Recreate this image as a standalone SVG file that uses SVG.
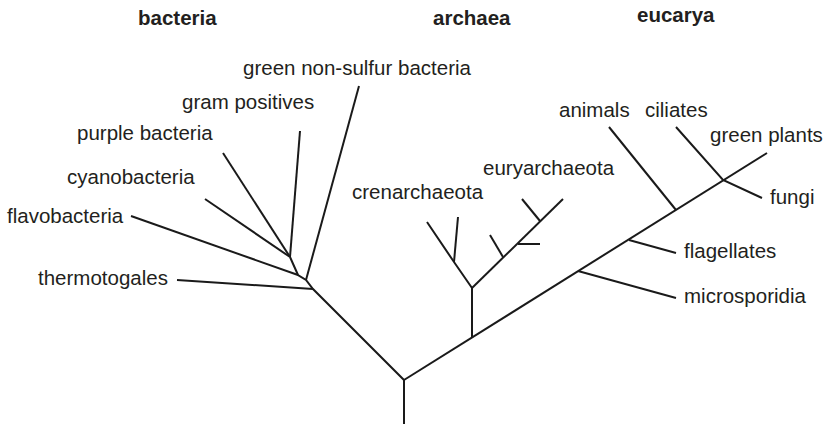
<svg xmlns="http://www.w3.org/2000/svg" width="826" height="426" viewBox="0 0 826 426">
<style>
.e{stroke:#1a1a1a;stroke-width:2;fill:none;stroke-linecap:butt;stroke-linejoin:miter}
text{font-family:"Liberation Sans",Arial,sans-serif;font-size:20.5px;fill:#231f20}
.h{font-weight:bold}
</style>
<rect width="826" height="426" fill="#fff"/>
<g id="headers">
<text class="h" x="138" y="25">bacteria</text>
<text class="h" x="433" y="25">archaea</text>
<text class="h" x="637" y="22">eucarya</text>
</g>
<g id="connectors">
<path class="e" d="M404,424 V380"/>
<path class="e" d="M404,380 L313,289 L306,280 L298,275 L290,257"/>
<path class="e" d="M177,280 L313,289"/>
<path class="e" d="M306,280 L359,86"/>
<path class="e" d="M131,216 L298,275"/>
<path class="e" d="M290,257 L300,131"/>
<path class="e" d="M223,153 L290,257"/>
<path class="e" d="M205,199 L290,257"/>
<path class="e" d="M404,380 L767,153"/>
<path class="e" d="M472,337 V288"/>
<path class="e" d="M472,288 L454,262 L427,222"/>
<path class="e" d="M454,262 L458,217"/>
<path class="e" d="M472,288 L563,199"/>
<path class="e" d="M503,257 L490,235"/>
<path class="e" d="M518,244 H540"/>
<path class="e" d="M540,221 L522,199"/>
<path class="e" d="M578,271 L676,298"/>
<path class="e" d="M629,240 L676,253"/>
<path class="e" d="M676,210 L609,127"/>
<path class="e" d="M676,127 L723,180 L762,198"/>
</g>
<g id="n-green-nonsulfur"><text x="243" y="75">green non-sulfur bacteria</text></g>
<g id="n-gram-positives"><text x="182" y="109">gram positives</text></g>
<g id="n-purple"><text x="77" y="140">purple bacteria</text></g>
<g id="n-cyano"><text x="67" y="184">cyanobacteria</text></g>
<g id="n-flavo"><text x="7" y="223">flavobacteria</text></g>
<g id="n-thermo"><text x="38" y="285">thermotogales</text></g>
<g id="n-cren"><text x="352" y="199">crenarchaeota</text></g>
<g id="n-eury"><text x="483" y="175">euryarchaeota</text></g>
<g id="n-animals"><text x="559" y="117">animals</text></g>
<g id="n-ciliates"><text x="645" y="117">ciliates</text></g>
<g id="n-green-plants"><text x="710" y="142">green plants</text></g>
<g id="n-fungi"><text x="770" y="204">fungi</text></g>
<g id="n-flagellates"><text x="684" y="258">flagellates</text></g>
<g id="n-micro"><text x="684" y="303">microsporidia</text></g>
</svg>
